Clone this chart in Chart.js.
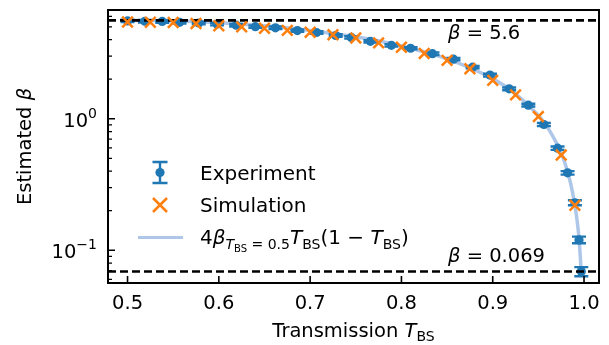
<!DOCTYPE html>
<html>
<head>
<meta charset="utf-8">
<script src="https://cdn.jsdelivr.net/npm/chart.js@4"></script>
<style>
  body { margin: 0; background: #fff; }
  canvas { display: block; }
</style>
</head>
<body>
<canvas id="betaChart" width="609" height="345"></canvas>
<script>
// Experiment: beam splitter transmission, estimated beta and its error
const expT = [0.500, 0.519, 0.538, 0.557, 0.578, 0.598, 0.619, 0.640, 0.662, 0.686, 0.707, 0.728, 0.745, 0.766,
              0.789, 0.810, 0.834, 0.857, 0.878, 0.897, 0.918, 0.939, 0.956, 0.971, 0.982, 0.990, 0.9945, 0.997];
const expBeta = [5.55, 5.52, 5.50, 5.42, 5.35, 5.25, 5.15, 5.02, 4.92, 4.69, 4.53, 4.30, 4.16, 3.88,
                 3.62, 3.44, 3.13, 2.84, 2.47, 2.15, 1.69, 1.27, 0.905, 0.598, 0.388, 0.23, 0.12, 0.069];
const expErr = [0.12, 0.12, 0.12, 0.12, 0.12, 0.12, 0.11, 0.11, 0.11, 0.10, 0.10, 0.09, 0.09, 0.08,
                0.08, 0.07, 0.07, 0.06, 0.05, 0.05, 0.04, 0.03, 0.025, 0.018, 0.012, 0.010, 0.007, 0.0055];

// Simulation
const simT = [0.5, 0.525, 0.55, 0.575, 0.6, 0.625, 0.65, 0.675, 0.7, 0.725, 0.75,
              0.775, 0.8, 0.825, 0.85, 0.875, 0.9, 0.925, 0.95, 0.975, 0.99];
const simBeta = [5.45, 5.42, 5.40, 5.30, 5.10, 5.00, 4.88, 4.70, 4.55, 4.36, 4.12,
                 3.78, 3.50, 3.14, 2.78, 2.40, 1.96, 1.52, 1.04, 0.53, 0.22];

// Theory curve, points
const curveT = [0.5, 0.55, 0.6, 0.65, 0.7, 0.75, 0.8, 0.85, 0.9, 0.925, 0.95, 0.96, 0.97,
                0.975, 0.98, 0.985, 0.99, 0.993, 0.995, 0.997];
const curveBeta = [5.6, 5.54, 5.38, 5.10, 4.70, 4.20, 3.58, 2.86, 2.02, 1.55, 1.06, 0.86, 0.65,
                   0.55, 0.44, 0.33, 0.22, 0.156, 0.111, 0.067];

// Reference levels
const refLevels = [5.6, 0.069];
const refLabels = ['5.6', '0.069'];

// Axes
const xRange = [0.4786, 1.0164];
const yRange = [0.0564, 6.72];
const xTicks = [0.5, 0.6, 0.7, 0.8, 0.9, 1.0];
const xTickLabels = ['0.5', '0.6', '0.7', '0.8', '0.9', '1.0'];
const yMajor = [0.1, 1];
const yMajorExp = ['\u22121', '0'];
const yMinor = [0.06, 0.07, 0.08, 0.09, 0.2, 0.3, 0.4, 0.5, 0.6, 0.7, 0.8, 0.9, 2, 3, 4, 5, 6];

const BLUE = '#1f77b4';
const ORANGE = '#ff7f0e';
const LIGHT = '#aec7e8';
const FAMILY = '"DejaVu Sans"';

function font(size, italic) {
    return (italic ? 'italic ' : '') + size + 'px ' + FAMILY;
}

// Draw a row of text pieces: [text, size, italic, dy]
function drawRuns(ctx, runs, x, y, align) {
    let w = 0;
    runs.forEach(r => { ctx.font = font(r[1], r[2]); w += ctx.measureText(r[0]).width; });
    let cx = align === 'center' ? x - w / 2 : (align === 'right' ? x - w : x);
    ctx.textAlign = 'left';
    runs.forEach(r => {
        ctx.font = font(r[1], r[2]);
        ctx.fillText(r[0], cx, y + (r[3] || 0));
        cx += ctx.measureText(r[0]).width;
    });
}

function drawErrorBar(ctx, x, yTop, yBot, cap) {
    ctx.beginPath();
    ctx.moveTo(x, yTop); ctx.lineTo(x, yBot);
    ctx.moveTo(x - cap, yTop); ctx.lineTo(x + cap, yTop);
    ctx.moveTo(x - cap, yBot); ctx.lineTo(x + cap, yBot);
    ctx.stroke();
}

// Error bars drawn just before the experiment markers
const errorBarPlugin = {
    id: 'errorBars',
    beforeDatasetDraw(chart, args) {
        if (args.index !== 1) return;
        const ctx = chart.ctx;
        const xs = chart.scales.x, ys = chart.scales.y;
        ctx.save();
        ctx.strokeStyle = BLUE;
        ctx.lineWidth = 2.4;
        expT.forEach((t, i) => {
            const px = xs.getPixelForValue(t);
            const top = ys.getPixelForValue(expBeta[i] + expErr[i]);
            const bot = ys.getPixelForValue(expBeta[i] - expErr[i]);
            drawErrorBar(ctx, px, top, bot, 7);
        });
        ctx.restore();
    }
};

// Frame, inward ticks, labels, annotations and legend
const decorPlugin = {
    id: 'decor',
    afterDraw(chart) {
        const ctx = chart.ctx;
        const a = chart.chartArea;
        const xs = chart.scales.x, ys = chart.scales.y;
        ctx.save();
        ctx.strokeStyle = '#000';
        ctx.fillStyle = '#000';

        // ticks
        ctx.lineWidth = 1.6;
        ctx.beginPath();
        xTicks.forEach(v => {
            const px = xs.getPixelForValue(v);
            ctx.moveTo(px, a.bottom); ctx.lineTo(px, a.bottom - 7);
        });
        yMajor.forEach(v => {
            const py = ys.getPixelForValue(v);
            ctx.moveTo(a.left, py); ctx.lineTo(a.left + 7, py);
        });
        ctx.stroke();
        ctx.lineWidth = 1.2;
        ctx.beginPath();
        yMinor.forEach(v => {
            const py = ys.getPixelForValue(v);
            ctx.moveTo(a.left, py); ctx.lineTo(a.left + 4, py);
        });
        ctx.stroke();

        // frame
        ctx.lineWidth = 2;
        ctx.strokeRect(a.left, a.top, a.right - a.left, a.bottom - a.top);

        // tick labels
        ctx.textBaseline = 'alphabetic';
        xTicks.forEach((v, i) => {
            drawRuns(ctx, [[xTickLabels[i], 19.5]], xs.getPixelForValue(v), 309, 'center');
        });
        yMajor.forEach((v, i) => {
            const py = ys.getPixelForValue(v);
            drawRuns(ctx, [['10', 19.5], [yMajorExp[i], 14, false, -9]], 97, py + 8, 'right');
        });

        // axis titles
        drawRuns(ctx, [['Transmission ', 19.5], ['T', 19.5, true], ['BS', 14, false, 4]],
            (a.left + a.right) / 2, 337, 'center');
        ctx.save();
        ctx.translate(31, (a.top + a.bottom) / 2);
        ctx.rotate(-Math.PI / 2);
        drawRuns(ctx, [['Estimated ', 19.5], ['\u03b2', 19.5, true]], 0, 0, 'center');
        ctx.restore();

        // reference labels
        const refBase = [39, 262];
        refLevels.forEach((v, i) => {
            drawRuns(ctx, [['\u03b2', 19.5, true], [' = ' + refLabels[i], 19.5]], 448, refBase[i], 'left');
        });

        // legend
        const lx = 160;
        ctx.strokeStyle = BLUE;
        ctx.fillStyle = BLUE;
        ctx.lineWidth = 2.4;
        drawErrorBar(ctx, lx, 162, 183, 7.5);
        ctx.beginPath(); ctx.arc(lx, 172.5, 4.6, 0, Math.PI * 2); ctx.fill();

        ctx.strokeStyle = ORANGE;
        ctx.lineWidth = 2.5;
        ctx.beginPath();
        ctx.moveTo(lx - 7, 198); ctx.lineTo(lx + 7, 212);
        ctx.moveTo(lx - 7, 212); ctx.lineTo(lx + 7, 198);
        ctx.stroke();

        ctx.strokeStyle = LIGHT;
        ctx.lineWidth = 3.2;
        ctx.beginPath(); ctx.moveTo(138, 237.5); ctx.lineTo(183, 237.5); ctx.stroke();

        ctx.fillStyle = '#000';
        drawRuns(ctx, [['Experiment', 20]], 200, 180, 'left');
        drawRuns(ctx, [['Simulation', 20]], 200, 212, 'left');
        drawRuns(ctx, [
            ['4', 20], ['\u03b2', 20, true], ['T', 14, true, 5], ['BS', 10, false, 8], [' = 0.5', 14, false, 5],
            ['T', 20, true], ['BS', 14, false, 5], ['(1 \u2212 ', 20], ['T', 20, true], ['BS', 14, false, 5], [')', 20]
        ], 200, 244, 'left');

        ctx.restore();
    }
};

const refDatasets = refLevels.map(v => ({
    type: 'line',
    data: [{ x: xRange[0], y: v }, { x: xRange[1], y: v }],
    borderColor: '#000',
    borderWidth: 2.6,
    borderDash: [8, 4],
    pointRadius: 0,
    order: 1
}));

new Chart(document.getElementById('betaChart'), {
    type: 'scatter',
    data: {
        datasets: [
            {
                label: 'Simulation',
                data: simT.map((t, i) => ({ x: t, y: simBeta[i] })),
                pointStyle: 'crossRot',
                pointRadius: 7.5,
                borderColor: ORANGE,
                borderWidth: 2.5,
                order: 0
            },
            {
                label: 'Experiment',
                data: expT.map((t, i) => ({ x: t, y: expBeta[i] })),
                pointStyle: 'circle',
                pointRadius: 4.6,
                backgroundColor: BLUE,
                borderColor: BLUE,
                borderWidth: 0,
                order: 2
            },
            {
                type: 'line',
                label: 'Theory',
                data: curveT.map((t, i) => ({ x: t, y: curveBeta[i] })),
                borderColor: LIGHT,
                borderWidth: 3.5,
                pointRadius: 0,
                cubicInterpolationMode: 'monotone',
                order: 3
            },
            ...refDatasets
        ]
    },
    options: {
        responsive: false,
        animation: false,
        devicePixelRatio: 1,
        layout: { padding: { left: 108, right: 10, top: 7.5, bottom: 62 } },
        plugins: { legend: { display: false }, tooltip: { enabled: false } },
        scales: {
            x: { type: 'linear', min: xRange[0], max: xRange[1], display: false },
            y: { type: 'logarithmic', min: yRange[0], max: yRange[1], display: false }
        }
    },
    plugins: [errorBarPlugin, decorPlugin]
});
</script>
</body>
</html>
